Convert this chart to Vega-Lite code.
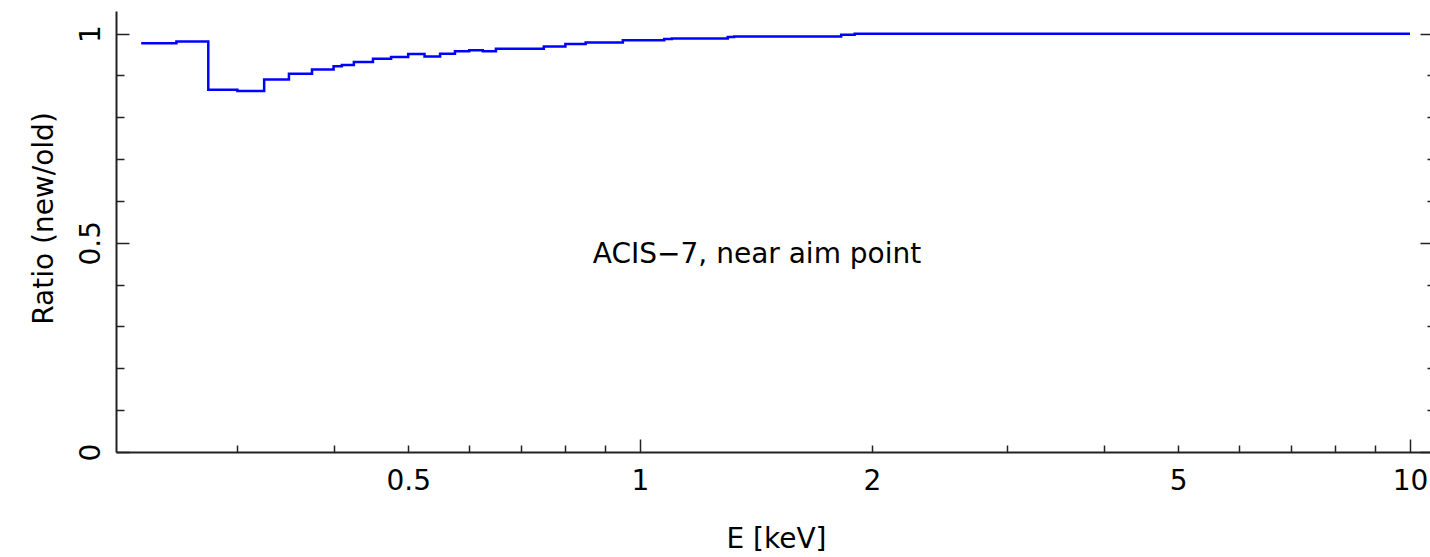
{
  "$schema": "https://vega.github.io/schema/vega-lite/v6.json",
  "width": 1314,
  "height": 441,
  "autosize": {"type": "none"},
  "padding": {"left": 116, "top": 11, "right": 0, "bottom": 105},
  "background": "white",
  "config": {
    "view": {"stroke": null},
    "font": "DejaVu Sans",
    "axis": {
      "grid": false,
      "domainColor": "#222222",
      "domainWidth": 2,
      "tickColor": "#222222",
      "tickWidth": 1.5,
      "labelColor": "#000000",
      "titleColor": "#000000",
      "labelFont": "DejaVu Sans",
      "titleFont": "DejaVu Sans",
      "labelFontSize": 28,
      "titleFontSize": 28,
      "titleFontWeight": "normal"
    }
  },
  "data": {
    "values": [
      {"E": 0.225, "ratio": 0.977},
      {"E": 0.25, "ratio": 0.981},
      {"E": 0.275, "ratio": 0.866},
      {"E": 0.3, "ratio": 0.863},
      {"E": 0.325, "ratio": 0.89},
      {"E": 0.35, "ratio": 0.904},
      {"E": 0.375, "ratio": 0.914},
      {"E": 0.4, "ratio": 0.922},
      {"E": 0.41, "ratio": 0.925},
      {"E": 0.425, "ratio": 0.932},
      {"E": 0.45, "ratio": 0.94},
      {"E": 0.475, "ratio": 0.944},
      {"E": 0.5, "ratio": 0.951},
      {"E": 0.525, "ratio": 0.945},
      {"E": 0.55, "ratio": 0.952},
      {"E": 0.575, "ratio": 0.958},
      {"E": 0.6, "ratio": 0.96},
      {"E": 0.625, "ratio": 0.958},
      {"E": 0.65, "ratio": 0.964},
      {"E": 0.75, "ratio": 0.969},
      {"E": 0.8, "ratio": 0.975},
      {"E": 0.85, "ratio": 0.979},
      {"E": 0.95, "ratio": 0.984},
      {"E": 1.075, "ratio": 0.987},
      {"E": 1.1, "ratio": 0.988},
      {"E": 1.3, "ratio": 0.992},
      {"E": 1.325, "ratio": 0.993},
      {"E": 1.825, "ratio": 0.997},
      {"E": 1.9, "ratio": 0.9995},
      {"E": 10, "ratio": 0.9995}
    ]
  },
  "resolve": {"axis": {"x": "independent", "y": "independent"}},
  "layer": [
    {
      "mark": {"type": "line", "interpolate": "step-after", "color": "#0000ff", "strokeWidth": 2.5},
      "encoding": {
        "x": {
          "field": "E", "type": "quantitative",
          "scale": {"type": "log", "domain": [0.20868, 10.616], "nice": false},
          "axis": {
            "orient": "bottom", "values": [0.5, 1, 2, 5, 10], "format": "~g",
            "ticks": false, "labelPadding": 15, "labelBaseline": "top", "labelAlign": "center",
            "labelFlush": false, "labelOverlap": false,
            "title": "E [keV]", "titleX": 660, "titleY": 87, "titleAlign": "center", "titleBaseline": "middle"
          }
        },
        "y": {
          "field": "ratio", "type": "quantitative",
          "scale": {"domain": [0, 1.054], "nice": false, "zero": true},
          "axis": {
            "orient": "left", "values": [0, 0.5, 1], "format": "~g",
            "ticks": false, "labelAngle": 270, "labelAlign": "center", "labelBaseline": "alphabetic",
            "labelPadding": 17, "labelFlush": false, "labelOverlap": false,
            "title": "Ratio (new/old)", "titleAngle": 270, "titleX": -72, "titleY": 207,
            "titleAlign": "center", "titleBaseline": "middle"
          }
        }
      }
    },
    {
      "mark": {"type": "point", "opacity": 0},
      "encoding": {
        "x": {
          "field": "E", "type": "quantitative",
          "scale": {"type": "log", "domain": [0.20868, 10.616], "nice": false},
          "axis": {"orient": "bottom", "values": [0.3, 0.4, 0.5, 0.6, 0.7, 0.8, 0.9, 2, 3, 4, 5, 6, 7, 8, 9], "labels": false, "domain": false, "tickSize": -7, "title": null}
        },
        "y": {
          "field": "ratio", "type": "quantitative",
          "scale": {"domain": [0, 1.054], "nice": false, "zero": true},
          "axis": {"orient": "left", "values": [0.1, 0.2, 0.3, 0.4, 0.6, 0.7, 0.8, 0.9], "labels": false, "domain": false, "tickSize": -8, "title": null}
        }
      }
    },
    {
      "mark": {"type": "point", "opacity": 0},
      "encoding": {
        "x": {
          "field": "E", "type": "quantitative",
          "scale": {"type": "log", "domain": [0.20868, 10.616], "nice": false},
          "axis": {"orient": "bottom", "values": [1, 10], "labels": false, "domain": false, "tickSize": -13, "title": null}
        },
        "y": {
          "field": "ratio", "type": "quantitative",
          "scale": {"domain": [0, 1.054], "nice": false, "zero": true},
          "axis": {"orient": "left", "values": [0, 0.5, 1], "labels": false, "domain": false, "tickSize": -13, "title": null}
        }
      }
    },
    {
      "mark": {"type": "point", "opacity": 0},
      "encoding": {
        "x": {
          "field": "E", "type": "quantitative",
          "scale": {"type": "log", "domain": [0.20868, 10.616], "nice": false},
          "axis": null
        },
        "y": {
          "field": "ratio", "type": "quantitative",
          "scale": {"domain": [0, 1.054], "nice": false, "zero": true},
          "axis": {"orient": "right", "values": [0, 0.5, 1], "labels": false, "domain": false, "tickSize": -10, "title": null}
        }
      }
    },
    {
      "data": {"values": [{"label": "ACIS\u22127, near aim point"}]},
      "mark": {"type": "text", "font": "DejaVu Sans", "fontSize": 28, "color": "#000000", "align": "center", "baseline": "alphabetic"},
      "encoding": {
        "text": {"field": "label"},
        "x": {
          "datum": 1.419, "type": "quantitative",
          "scale": {"type": "log", "domain": [0.20868, 10.616], "nice": false},
          "axis": null
        },
        "y": {
          "datum": 0.452, "type": "quantitative",
          "scale": {"domain": [0, 1.054], "nice": false, "zero": true},
          "axis": {"orient": "right", "values": [0.1, 0.2, 0.3, 0.4, 0.6, 0.7, 0.8, 0.9], "labels": false, "domain": false, "tickSize": -3, "title": null}
        }
      }
    }
  ]
}
